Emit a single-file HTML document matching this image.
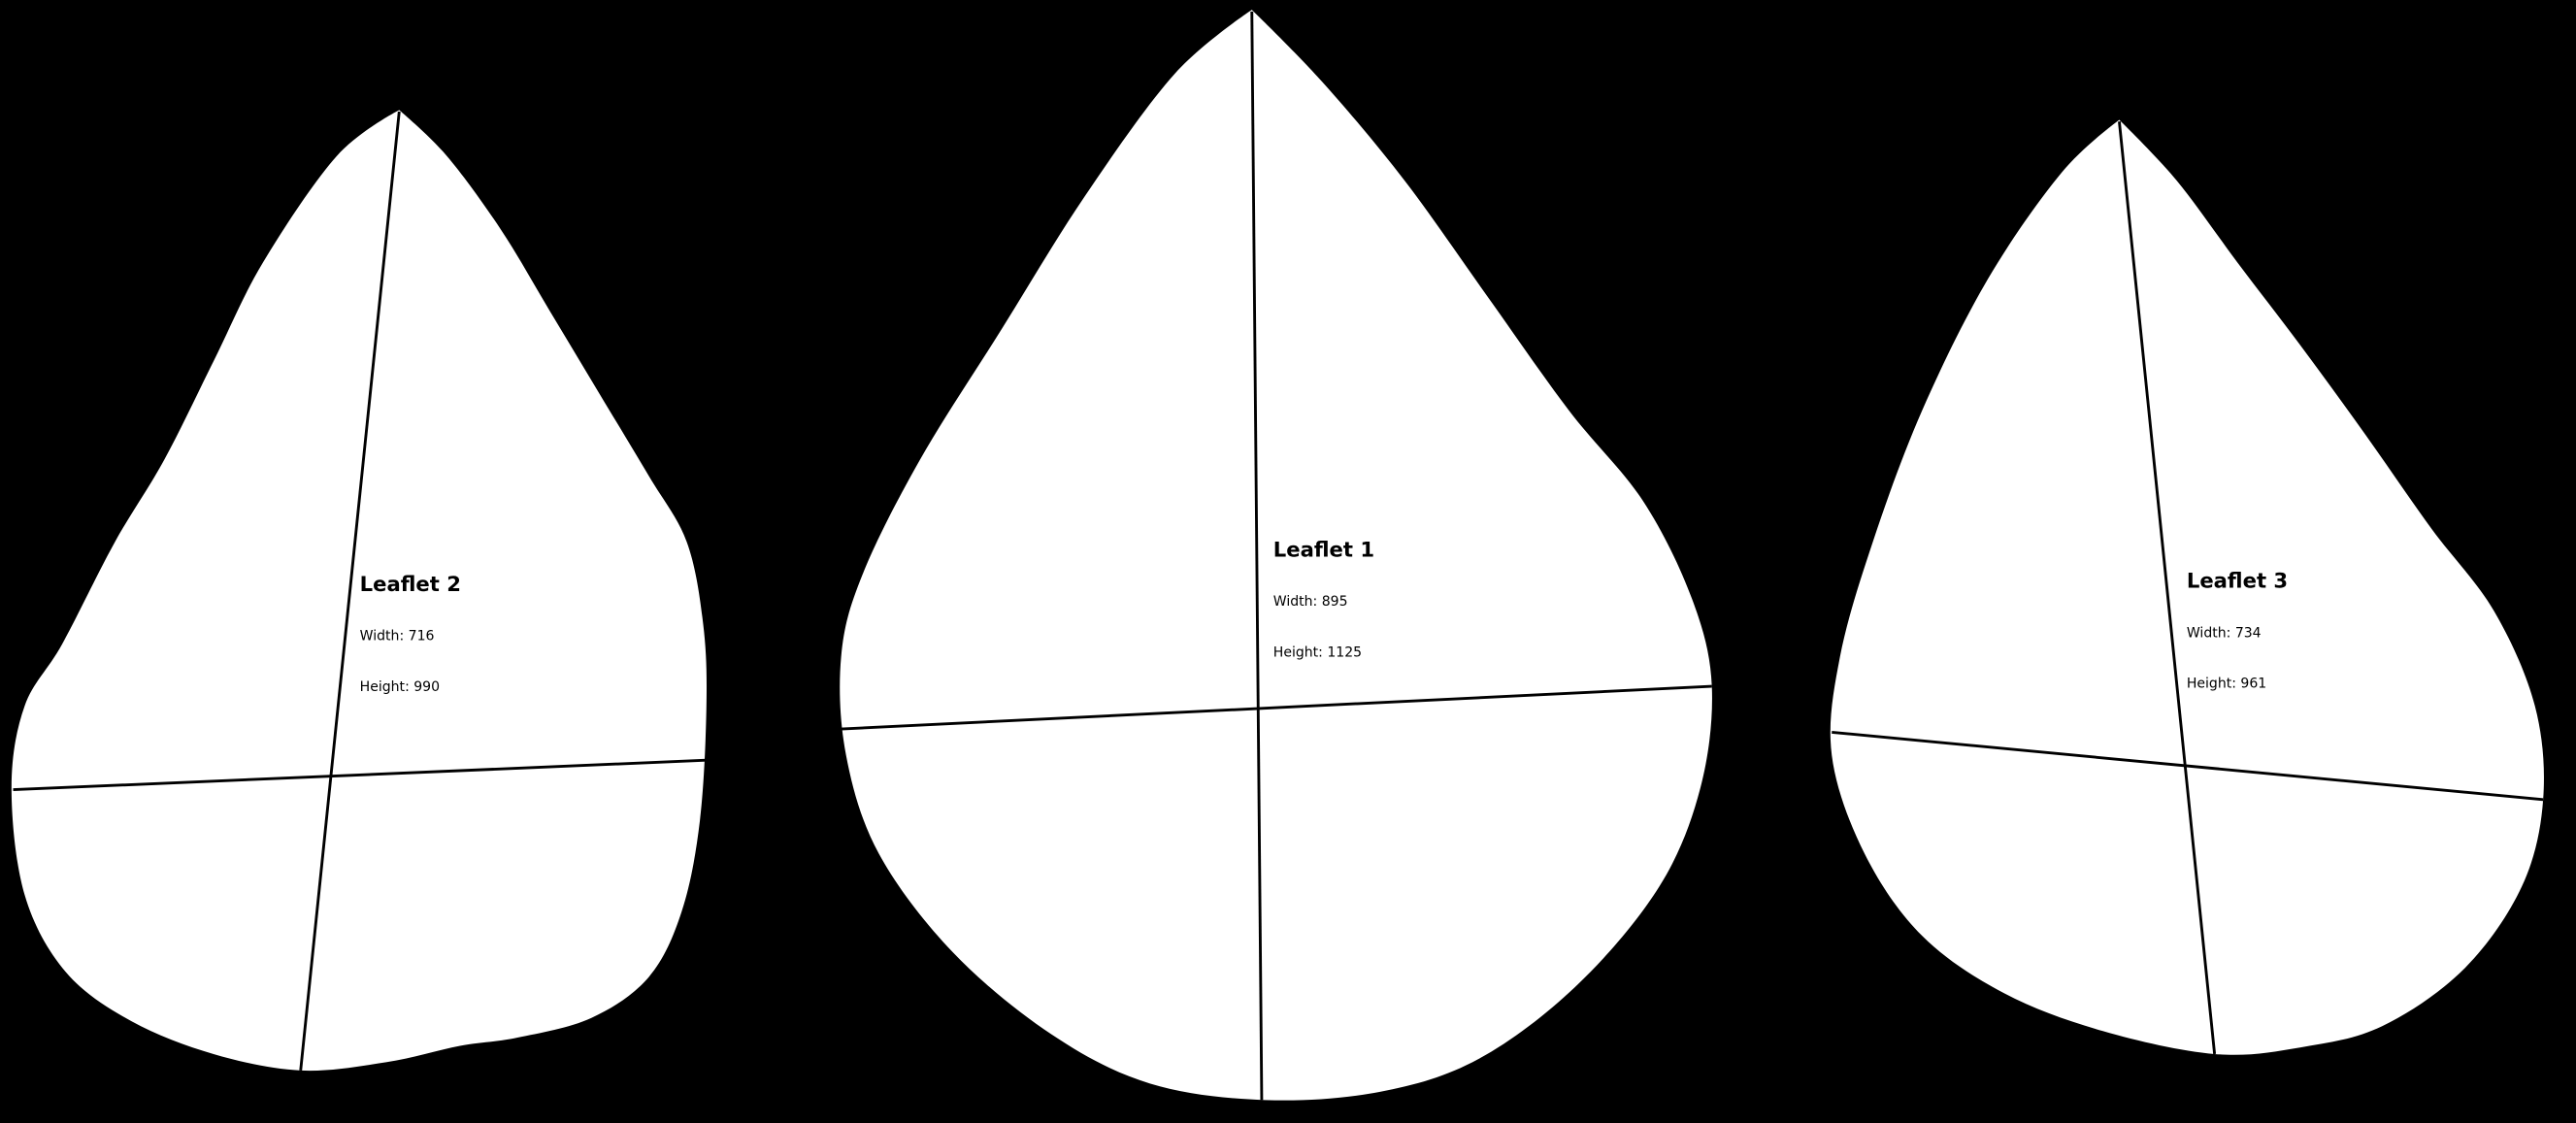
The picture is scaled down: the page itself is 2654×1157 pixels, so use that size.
<!DOCTYPE html>
<html><head><meta charset="utf-8"><style>
html,body{margin:0;padding:0;background:#000;width:2654px;height:1157px;overflow:hidden}
svg{display:block}
text{font-family:"DejaVu Sans","Liberation Sans",sans-serif;fill:#000}
</style></head><body>
<svg id="s" width="2654" height="1157" viewBox="0 0 1568 684" preserveAspectRatio="none">
<rect width="1568" height="684" fill="#000"/>
</svg>
<script>
const leafNames=["Leaflet 2","Leaflet 1","Leaflet 3"];
const leafWidths=[716,895,734];
const leafHeights=[990,1125,961];
const outline2=[[243,67],[272,95],[305,140],[335,190],[365,240],[395,290],[418,330],[428,380],[430,430],[426,500],[415,555],[395,595],[360,620],[315,632],[280,637],[235,647],[183,652],[130,642],[80,622],[40,592],[15,545],[7,480],[15,430],[38,392],[70,330],[100,280],[130,220],[160,160],[205,95]];
const outline1=[[762,6],[805,50],[855,110],[905,180],[955,250],[1000,305],[1030,365],[1042,418],[1035,480],[1010,540],[960,600],[900,645],[840,665],[770,670],[700,660],[640,630],[580,580],[535,520],[515,460],[512,400],[525,350],[560,280],[610,200],[660,120],[715,45]];
const outline3=[[1290,73],[1325,110],[1362,160],[1400,210],[1440,265],[1480,322],[1518,372],[1543,430],[1548,487],[1535,540],[1500,590],[1450,625],[1400,638],[1348,642],[1280,628],[1220,605],[1170,570],[1135,520],[1115,460],[1120,400],[1140,330],[1170,250],[1210,170],[1255,105]];
const outlines=[outline2,outline1,outline3];
const lenAxes=[[[243,68],[183,652]],[[762,7],[768,670]],[[1290,74],[1348,642]]];
const widAxes=[[[8,481],[430,463]],[[512,444],[1042,418]],[[1115,446],[1548,487]]];
const labelPos=[[219,360],[775,339],[1331,358]];
const NS="http://www.w3.org/2000/svg";
const svg=document.getElementById('s');
function smooth(p){let n=p.length,d=`M${p[0][0]},${p[0][1]}`;
for(let i=0;i<n;i++){const p0=p[(i-1+n)%n],p1=p[i],p2=p[(i+1)%n],p3=p[(i+2)%n];
const k1=(i===0)?0:1/6,k2=((i+1)%n===0)?0:1/6;
d+=` C${p1[0]+(p2[0]-p0[0])*k1},${p1[1]+(p2[1]-p0[1])*k1} ${p2[0]-(p3[0]-p1[0])*k2},${p2[1]-(p3[1]-p1[1])*k2} ${p2[0]},${p2[1]}`;}
return d+'Z';}
for(let i=0;i<3;i++){
const g=document.createElementNS(NS,'g');


const path=document.createElementNS(NS,'path');
path.setAttribute('d',smooth(outlines[i]));path.setAttribute('fill','#fff');


g.appendChild(path);
[[lenAxes[i],'length-axis-line'],[widAxes[i],'width-axis-line']].forEach(([a,nm])=>{
const l=document.createElementNS(NS,'line');
l.setAttribute('x1',a[0][0]);l.setAttribute('y1',a[0][1]);l.setAttribute('x2',a[1][0]);l.setAttribute('y2',a[1][1]);
l.setAttribute('stroke','#000');l.setAttribute('stroke-width','1.7');


g.appendChild(l);});
const [x,y]=labelPos[i];
const lines=[[leafNames[i],0,12.5,'bold','leaflet-title'],['Width: '+leafWidths[i],30,8.3,'normal','width-label'],['Height: '+leafHeights[i],61,8.3,'normal','height-label']];
lines.forEach(([t,dy,fs,fw,nm])=>{
const tx=document.createElementNS(NS,'text');
tx.setAttribute('x',x);tx.setAttribute('y',y+dy);tx.setAttribute('font-size',fs);tx.setAttribute('font-weight',fw);
tx.textContent=t;


g.appendChild(tx);});
svg.appendChild(g);}
</script>
</body></html>
